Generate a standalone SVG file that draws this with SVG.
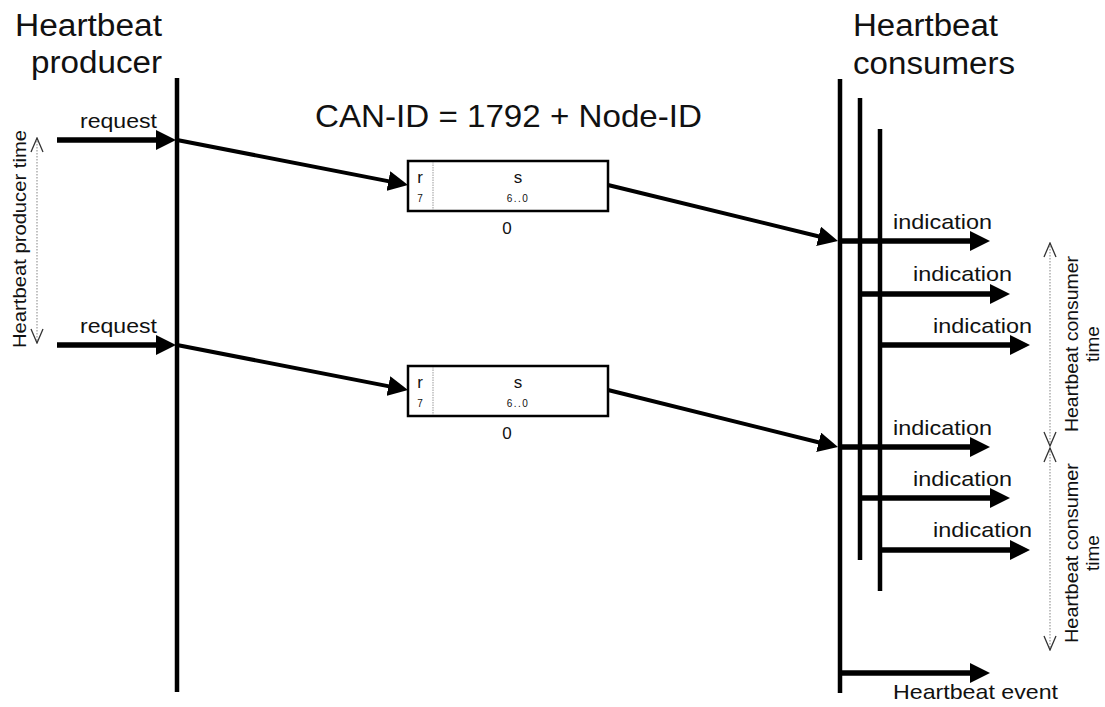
<svg xmlns="http://www.w3.org/2000/svg" width="1105" height="707" viewBox="0 0 1105 707">
<defs>
<style>
text{font-family:"Liberation Sans",Arial,sans-serif;fill:#111}
.title{font-size:31px}
.lbl{font-size:21px}
.tm{font-size:19px}
.big{font-size:32px}
.bx{font-size:17px}
.sm{font-size:10px}
.life{stroke:#000;stroke-width:4.5;fill:none}
.arr{stroke:#000;stroke-width:5.5;fill:none;marker-end:url(#ah)}
.diag{stroke:#000;stroke-width:4;fill:none;marker-end:url(#ah)}
.box{fill:#fff;stroke:#000;stroke-width:2.5}
.div{stroke:#999;stroke-width:1;stroke-dasharray:1.5,1}
.span{stroke:#999;stroke-width:1.2;stroke-dasharray:1.5,1.5;fill:none;marker-start:url(#ch);marker-end:url(#ch)}
</style>
<marker id="ah" viewBox="0 0 20 20" refX="10" refY="10" markerWidth="20" markerHeight="20" markerUnits="userSpaceOnUse" orient="auto">
<path d="M0,0 L20,10 L0,20 Z" fill="#000"/>
</marker>
<marker id="ch" viewBox="0 0 16 14" refX="15" refY="7" markerWidth="16" markerHeight="14" markerUnits="userSpaceOnUse" orient="auto-start-reverse">
<polyline points="1,1 15,7 1,13" fill="none" stroke="#333" stroke-width="1.3"/>
</marker>
</defs>

<g id="producer">
<text class="title" x="15" y="36" textLength="147" lengthAdjust="spacingAndGlyphs">Heartbeat</text>
<text class="title" x="31" y="73" textLength="131" lengthAdjust="spacingAndGlyphs">producer</text>
<line class="life" x1="177" y1="78" x2="177" y2="692"/>
</g>

<g id="consumers">
<text class="title" x="853" y="36" textLength="145" lengthAdjust="spacingAndGlyphs">Heartbeat</text>
<text class="title" x="853" y="74" textLength="162" lengthAdjust="spacingAndGlyphs">consumers</text>
<line class="life" x1="840" y1="79" x2="840" y2="693"/>
<line class="life" x1="860" y1="98" x2="860" y2="560"/>
<line class="life" x1="880" y1="129" x2="880" y2="591"/>
</g>

<g id="canid">
<text class="big" x="315" y="127" textLength="387" lengthAdjust="spacingAndGlyphs">CAN-ID = 1792 + Node-ID</text>
</g>

<g id="frame1">
<rect class="box" x="408" y="161" width="200" height="50"/>
<line class="div" x1="433" y1="162" x2="433" y2="210"/>
<text class="bx" x="420" y="183" text-anchor="middle">r</text>
<text class="sm" x="420" y="202" text-anchor="middle">7</text>
<text class="bx" x="518" y="183" text-anchor="middle">s</text>
<text class="sm" x="518" y="202" text-anchor="middle" letter-spacing="1.5">6..0</text>
<text class="bx" x="507" y="234" text-anchor="middle">0</text>
</g>

<g id="frame2">
<rect class="box" x="408" y="366" width="200" height="50"/>
<line class="div" x1="433" y1="367" x2="433" y2="415"/>
<text class="bx" x="420" y="388" text-anchor="middle">r</text>
<text class="sm" x="420" y="407" text-anchor="middle">7</text>
<text class="bx" x="518" y="388" text-anchor="middle">s</text>
<text class="sm" x="518" y="407" text-anchor="middle" letter-spacing="1.5">6..0</text>
<text class="bx" x="507" y="439" text-anchor="middle">0</text>
</g>

<g id="producer-time">
<line class="span" x1="37" y1="138" x2="37" y2="343"/>
<text class="tm" transform="translate(26,239) rotate(-90)" text-anchor="middle" textLength="218" lengthAdjust="spacingAndGlyphs">Heartbeat producer time</text>
</g>

<g id="consumer-time-1">
<line class="span" x1="1050" y1="243" x2="1050" y2="446"/>
<text class="tm" transform="translate(1078,344) rotate(-90)" text-anchor="middle" textLength="176" lengthAdjust="spacingAndGlyphs">Heartbeat consumer</text>
<text class="tm" transform="translate(1099,344) rotate(-90)" text-anchor="middle">time</text>
</g>

<g id="consumer-time-2">
<line class="span" x1="1050" y1="448" x2="1050" y2="650"/>
<text class="tm" transform="translate(1078,553) rotate(-90)" text-anchor="middle" textLength="180" lengthAdjust="spacingAndGlyphs">Heartbeat consumer</text>
<text class="tm" transform="translate(1099,553) rotate(-90)" text-anchor="middle">time</text>
</g>

<g id="connectors">
<line class="arr" x1="57" y1="140" x2="166" y2="140"/>
<line class="arr" x1="57" y1="345" x2="166" y2="345"/>
<line class="diag" x1="177" y1="140" x2="398.2" y2="183.1"/>
<line class="diag" x1="177" y1="345" x2="398.2" y2="388.1"/>
<line class="diag" x1="608" y1="185" x2="828.3" y2="238.7"/>
<line class="diag" x1="608" y1="390" x2="828.3" y2="444.7"/>
<line class="arr" x1="840" y1="241" x2="980" y2="241"/>
<line class="arr" x1="860" y1="294" x2="1000" y2="294"/>
<line class="arr" x1="880" y1="345" x2="1020" y2="345"/>
<line class="arr" x1="840" y1="447" x2="980" y2="447"/>
<line class="arr" x1="860" y1="498" x2="1000" y2="498"/>
<line class="arr" x1="880" y1="550" x2="1020" y2="550"/>
<line class="arr" x1="840" y1="673" x2="980" y2="673"/>
</g>

<g id="labels">
<text class="lbl" x="80" y="128" textLength="77" lengthAdjust="spacingAndGlyphs">request</text>
<text class="lbl" x="80" y="333" textLength="77" lengthAdjust="spacingAndGlyphs">request</text>
<text class="lbl" x="893" y="229" textLength="99" lengthAdjust="spacingAndGlyphs">indication</text>
<text class="lbl" x="913" y="281" textLength="99" lengthAdjust="spacingAndGlyphs">indication</text>
<text class="lbl" x="933" y="333" textLength="99" lengthAdjust="spacingAndGlyphs">indication</text>
<text class="lbl" x="893" y="435" textLength="99" lengthAdjust="spacingAndGlyphs">indication</text>
<text class="lbl" x="913" y="486" textLength="99" lengthAdjust="spacingAndGlyphs">indication</text>
<text class="lbl" x="933" y="537" textLength="99" lengthAdjust="spacingAndGlyphs">indication</text>
<text class="lbl" x="893" y="699" textLength="165" lengthAdjust="spacingAndGlyphs">Heartbeat event</text>
</g>
</svg>
